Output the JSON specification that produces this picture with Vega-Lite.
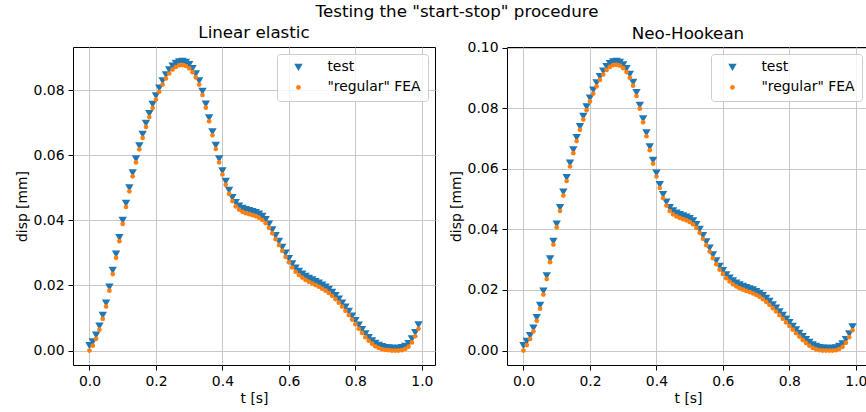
{
  "$schema": "https://vega.github.io/schema/vega-lite/v6.json",
  "padding": {"left": 14, "top": 4, "right": -3, "bottom": 0},
  "background": "white",
  "title": {"text": "Testing the \"start-stop\" procedure", "anchor": "start", "dx": 301, "fontSize": 16.7, "offset": 4},
  "datasets": {
    "linear": [
{"series":"test","t":0.00,"disp":0.0015},{"series":"test","t":0.01,"disp":0.0027},{"series":"test","t":0.02,"disp":0.0047},{"series":"test","t":0.03,"disp":0.0075},{"series":"test","t":0.04,"disp":0.0108},{"series":"test","t":0.05,"disp":0.0146},{"series":"test","t":0.06,"disp":0.0195},{"series":"test","t":0.07,"disp":0.0246},{"series":"test","t":0.08,"disp":0.0296},{"series":"test","t":0.09,"disp":0.0347},
{"series":"test","t":0.10,"disp":0.0400},{"series":"test","t":0.11,"disp":0.0452},{"series":"test","t":0.12,"disp":0.0500},{"series":"test","t":0.13,"disp":0.0546},{"series":"test","t":0.14,"disp":0.0589},{"series":"test","t":0.15,"disp":0.0629},{"series":"test","t":0.16,"disp":0.0664},{"series":"test","t":0.17,"disp":0.0698},{"series":"test","t":0.18,"disp":0.0728},{"series":"test","t":0.19,"disp":0.0756},
{"series":"test","t":0.20,"disp":0.0782},{"series":"test","t":0.21,"disp":0.0806},{"series":"test","t":0.22,"disp":0.0828},{"series":"test","t":0.23,"disp":0.0847},{"series":"test","t":0.24,"disp":0.0862},{"series":"test","t":0.25,"disp":0.0874},{"series":"test","t":0.26,"disp":0.0882},{"series":"test","t":0.27,"disp":0.0887},{"series":"test","t":0.28,"disp":0.0888},{"series":"test","t":0.29,"disp":0.0885},
{"series":"test","t":0.30,"disp":0.0878},{"series":"test","t":0.31,"disp":0.0866},{"series":"test","t":0.32,"disp":0.0850},{"series":"test","t":0.33,"disp":0.0828},{"series":"test","t":0.34,"disp":0.0796},{"series":"test","t":0.35,"disp":0.0757},{"series":"test","t":0.36,"disp":0.0715},{"series":"test","t":0.37,"disp":0.0672},{"series":"test","t":0.38,"disp":0.0630},{"series":"test","t":0.39,"disp":0.0589},
{"series":"test","t":0.40,"disp":0.0552},{"series":"test","t":0.41,"disp":0.0520},{"series":"test","t":0.42,"disp":0.0492},{"series":"test","t":0.43,"disp":0.0470},{"series":"test","t":0.44,"disp":0.0454},{"series":"test","t":0.45,"disp":0.0444},{"series":"test","t":0.46,"disp":0.0437},{"series":"test","t":0.47,"disp":0.0433},{"series":"test","t":0.48,"disp":0.0430},{"series":"test","t":0.49,"disp":0.0427},
{"series":"test","t":0.50,"disp":0.0424},{"series":"test","t":0.51,"disp":0.0419},{"series":"test","t":0.52,"disp":0.0412},{"series":"test","t":0.53,"disp":0.0402},{"series":"test","t":0.54,"disp":0.0388},{"series":"test","t":0.55,"disp":0.0371},{"series":"test","t":0.56,"disp":0.0353},{"series":"test","t":0.57,"disp":0.0335},{"series":"test","t":0.58,"disp":0.0317},{"series":"test","t":0.59,"disp":0.0299},
{"series":"test","t":0.60,"disp":0.0282},{"series":"test","t":0.61,"disp":0.0266},{"series":"test","t":0.62,"disp":0.0253},{"series":"test","t":0.63,"disp":0.0243},{"series":"test","t":0.64,"disp":0.0235},{"series":"test","t":0.65,"disp":0.0228},{"series":"test","t":0.66,"disp":0.0222},{"series":"test","t":0.67,"disp":0.0217},{"series":"test","t":0.68,"disp":0.0212},{"series":"test","t":0.69,"disp":0.0207},
{"series":"test","t":0.70,"disp":0.0201},{"series":"test","t":0.71,"disp":0.0195},{"series":"test","t":0.72,"disp":0.0188},{"series":"test","t":0.73,"disp":0.0179},{"series":"test","t":0.74,"disp":0.0169},{"series":"test","t":0.75,"disp":0.0158},{"series":"test","t":0.76,"disp":0.0146},{"series":"test","t":0.77,"disp":0.0133},{"series":"test","t":0.78,"disp":0.0120},{"series":"test","t":0.79,"disp":0.0106},
{"series":"test","t":0.80,"disp":0.0092},{"series":"test","t":0.81,"disp":0.0078},{"series":"test","t":0.82,"disp":0.0064},{"series":"test","t":0.83,"disp":0.0051},{"series":"test","t":0.84,"disp":0.0040},{"series":"test","t":0.85,"disp":0.0030},{"series":"test","t":0.86,"disp":0.0022},{"series":"test","t":0.87,"disp":0.0016},{"series":"test","t":0.88,"disp":0.0012},{"series":"test","t":0.89,"disp":0.0009},
{"series":"test","t":0.90,"disp":0.0008},{"series":"test","t":0.91,"disp":0.0007},{"series":"test","t":0.92,"disp":0.0007},{"series":"test","t":0.93,"disp":0.0007},{"series":"test","t":0.94,"disp":0.0009},{"series":"test","t":0.95,"disp":0.0013},{"series":"test","t":0.96,"disp":0.0021},{"series":"test","t":0.97,"disp":0.0036},{"series":"test","t":0.98,"disp":0.0055},{"series":"test","t":0.99,"disp":0.0079},
{"series":"\"regular\" FEA","t":0.00,"disp":0.0000},{"series":"\"regular\" FEA","t":0.01,"disp":0.0015},{"series":"\"regular\" FEA","t":0.02,"disp":0.0036},{"series":"\"regular\" FEA","t":0.03,"disp":0.0064},{"series":"\"regular\" FEA","t":0.04,"disp":0.0097},{"series":"\"regular\" FEA","t":0.05,"disp":0.0135},{"series":"\"regular\" FEA","t":0.06,"disp":0.0184},{"series":"\"regular\" FEA","t":0.07,"disp":0.0235},{"series":"\"regular\" FEA","t":0.08,"disp":0.0285},{"series":"\"regular\" FEA","t":0.09,"disp":0.0336},
{"series":"\"regular\" FEA","t":0.10,"disp":0.0389},{"series":"\"regular\" FEA","t":0.11,"disp":0.0441},{"series":"\"regular\" FEA","t":0.12,"disp":0.0489},{"series":"\"regular\" FEA","t":0.13,"disp":0.0535},{"series":"\"regular\" FEA","t":0.14,"disp":0.0578},{"series":"\"regular\" FEA","t":0.15,"disp":0.0618},{"series":"\"regular\" FEA","t":0.16,"disp":0.0653},{"series":"\"regular\" FEA","t":0.17,"disp":0.0687},{"series":"\"regular\" FEA","t":0.18,"disp":0.0717},{"series":"\"regular\" FEA","t":0.19,"disp":0.0745},
{"series":"\"regular\" FEA","t":0.20,"disp":0.0771},{"series":"\"regular\" FEA","t":0.21,"disp":0.0795},{"series":"\"regular\" FEA","t":0.22,"disp":0.0817},{"series":"\"regular\" FEA","t":0.23,"disp":0.0836},{"series":"\"regular\" FEA","t":0.24,"disp":0.0851},{"series":"\"regular\" FEA","t":0.25,"disp":0.0863},{"series":"\"regular\" FEA","t":0.26,"disp":0.0871},{"series":"\"regular\" FEA","t":0.27,"disp":0.0876},{"series":"\"regular\" FEA","t":0.28,"disp":0.0877},{"series":"\"regular\" FEA","t":0.29,"disp":0.0874},
{"series":"\"regular\" FEA","t":0.30,"disp":0.0867},{"series":"\"regular\" FEA","t":0.31,"disp":0.0855},{"series":"\"regular\" FEA","t":0.32,"disp":0.0839},{"series":"\"regular\" FEA","t":0.33,"disp":0.0817},{"series":"\"regular\" FEA","t":0.34,"disp":0.0785},{"series":"\"regular\" FEA","t":0.35,"disp":0.0746},{"series":"\"regular\" FEA","t":0.36,"disp":0.0704},{"series":"\"regular\" FEA","t":0.37,"disp":0.0661},{"series":"\"regular\" FEA","t":0.38,"disp":0.0619},{"series":"\"regular\" FEA","t":0.39,"disp":0.0578},
{"series":"\"regular\" FEA","t":0.40,"disp":0.0541},{"series":"\"regular\" FEA","t":0.41,"disp":0.0509},{"series":"\"regular\" FEA","t":0.42,"disp":0.0481},{"series":"\"regular\" FEA","t":0.43,"disp":0.0459},{"series":"\"regular\" FEA","t":0.44,"disp":0.0443},{"series":"\"regular\" FEA","t":0.45,"disp":0.0433},{"series":"\"regular\" FEA","t":0.46,"disp":0.0426},{"series":"\"regular\" FEA","t":0.47,"disp":0.0422},{"series":"\"regular\" FEA","t":0.48,"disp":0.0419},{"series":"\"regular\" FEA","t":0.49,"disp":0.0416},
{"series":"\"regular\" FEA","t":0.50,"disp":0.0413},{"series":"\"regular\" FEA","t":0.51,"disp":0.0408},{"series":"\"regular\" FEA","t":0.52,"disp":0.0401},{"series":"\"regular\" FEA","t":0.53,"disp":0.0391},{"series":"\"regular\" FEA","t":0.54,"disp":0.0377},{"series":"\"regular\" FEA","t":0.55,"disp":0.0360},{"series":"\"regular\" FEA","t":0.56,"disp":0.0342},{"series":"\"regular\" FEA","t":0.57,"disp":0.0324},{"series":"\"regular\" FEA","t":0.58,"disp":0.0306},{"series":"\"regular\" FEA","t":0.59,"disp":0.0288},
{"series":"\"regular\" FEA","t":0.60,"disp":0.0271},{"series":"\"regular\" FEA","t":0.61,"disp":0.0255},{"series":"\"regular\" FEA","t":0.62,"disp":0.0242},{"series":"\"regular\" FEA","t":0.63,"disp":0.0232},{"series":"\"regular\" FEA","t":0.64,"disp":0.0224},{"series":"\"regular\" FEA","t":0.65,"disp":0.0217},{"series":"\"regular\" FEA","t":0.66,"disp":0.0211},{"series":"\"regular\" FEA","t":0.67,"disp":0.0206},{"series":"\"regular\" FEA","t":0.68,"disp":0.0201},{"series":"\"regular\" FEA","t":0.69,"disp":0.0196},
{"series":"\"regular\" FEA","t":0.70,"disp":0.0190},{"series":"\"regular\" FEA","t":0.71,"disp":0.0184},{"series":"\"regular\" FEA","t":0.72,"disp":0.0177},{"series":"\"regular\" FEA","t":0.73,"disp":0.0168},{"series":"\"regular\" FEA","t":0.74,"disp":0.0158},{"series":"\"regular\" FEA","t":0.75,"disp":0.0147},{"series":"\"regular\" FEA","t":0.76,"disp":0.0135},{"series":"\"regular\" FEA","t":0.77,"disp":0.0122},{"series":"\"regular\" FEA","t":0.78,"disp":0.0109},{"series":"\"regular\" FEA","t":0.79,"disp":0.0095},
{"series":"\"regular\" FEA","t":0.80,"disp":0.0081},{"series":"\"regular\" FEA","t":0.81,"disp":0.0067},{"series":"\"regular\" FEA","t":0.82,"disp":0.0054},{"series":"\"regular\" FEA","t":0.83,"disp":0.0041},{"series":"\"regular\" FEA","t":0.84,"disp":0.0030},{"series":"\"regular\" FEA","t":0.85,"disp":0.0021},{"series":"\"regular\" FEA","t":0.86,"disp":0.0013},{"series":"\"regular\" FEA","t":0.87,"disp":0.0008},{"series":"\"regular\" FEA","t":0.88,"disp":0.0004},{"series":"\"regular\" FEA","t":0.89,"disp":0.0002},
{"series":"\"regular\" FEA","t":0.90,"disp":0.0001},{"series":"\"regular\" FEA","t":0.91,"disp":0.0000},{"series":"\"regular\" FEA","t":0.92,"disp":0.0000},{"series":"\"regular\" FEA","t":0.93,"disp":0.0000},{"series":"\"regular\" FEA","t":0.94,"disp":0.0001},{"series":"\"regular\" FEA","t":0.95,"disp":0.0005},{"series":"\"regular\" FEA","t":0.96,"disp":0.0012},{"series":"\"regular\" FEA","t":0.97,"disp":0.0025},{"series":"\"regular\" FEA","t":0.98,"disp":0.0044},{"series":"\"regular\" FEA","t":0.99,"disp":0.0067}
    ],
    "neo": [
{"series":"test","t":0.00,"disp":0.0016},{"series":"test","t":0.01,"disp":0.0030},{"series":"test","t":0.02,"disp":0.0049},{"series":"test","t":0.03,"disp":0.0074},{"series":"test","t":0.04,"disp":0.0109},{"series":"test","t":0.05,"disp":0.0149},{"series":"test","t":0.06,"disp":0.0196},{"series":"test","t":0.07,"disp":0.0247},{"series":"test","t":0.08,"disp":0.0303},{"series":"test","t":0.09,"disp":0.0361},
{"series":"test","t":0.10,"disp":0.0418},{"series":"test","t":0.11,"disp":0.0472},{"series":"test","t":0.12,"disp":0.0523},{"series":"test","t":0.13,"disp":0.0571},{"series":"test","t":0.14,"disp":0.0619},{"series":"test","t":0.15,"disp":0.0663},{"series":"test","t":0.16,"disp":0.0703},{"series":"test","t":0.17,"disp":0.0740},{"series":"test","t":0.18,"disp":0.0774},{"series":"test","t":0.19,"disp":0.0805},
{"series":"test","t":0.20,"disp":0.0834},{"series":"test","t":0.21,"disp":0.0860},{"series":"test","t":0.22,"disp":0.0884},{"series":"test","t":0.23,"disp":0.0905},{"series":"test","t":0.24,"disp":0.0923},{"series":"test","t":0.25,"disp":0.0938},{"series":"test","t":0.26,"disp":0.0948},{"series":"test","t":0.27,"disp":0.0954},{"series":"test","t":0.28,"disp":0.0955},{"series":"test","t":0.29,"disp":0.0952},
{"series":"test","t":0.30,"disp":0.0944},{"series":"test","t":0.31,"disp":0.0931},{"series":"test","t":0.32,"disp":0.0912},{"series":"test","t":0.33,"disp":0.0886},{"series":"test","t":0.34,"disp":0.0852},{"series":"test","t":0.35,"disp":0.0810},{"series":"test","t":0.36,"disp":0.0765},{"series":"test","t":0.37,"disp":0.0719},{"series":"test","t":0.38,"disp":0.0673},{"series":"test","t":0.39,"disp":0.0628},
{"series":"test","t":0.40,"disp":0.0586},{"series":"test","t":0.41,"disp":0.0548},{"series":"test","t":0.42,"disp":0.0515},{"series":"test","t":0.43,"disp":0.0490},{"series":"test","t":0.44,"disp":0.0472},{"series":"test","t":0.45,"disp":0.0461},{"series":"test","t":0.46,"disp":0.0454},{"series":"test","t":0.47,"disp":0.0449},{"series":"test","t":0.48,"disp":0.0445},{"series":"test","t":0.49,"disp":0.0441},
{"series":"test","t":0.50,"disp":0.0436},{"series":"test","t":0.51,"disp":0.0428},{"series":"test","t":0.52,"disp":0.0416},{"series":"test","t":0.53,"disp":0.0400},{"series":"test","t":0.54,"disp":0.0380},{"series":"test","t":0.55,"disp":0.0359},{"series":"test","t":0.56,"disp":0.0338},{"series":"test","t":0.57,"disp":0.0316},{"series":"test","t":0.58,"disp":0.0296},{"series":"test","t":0.59,"disp":0.0278},
{"series":"test","t":0.60,"disp":0.0264},{"series":"test","t":0.61,"disp":0.0250},{"series":"test","t":0.62,"disp":0.0239},{"series":"test","t":0.63,"disp":0.0230},{"series":"test","t":0.64,"disp":0.0223},{"series":"test","t":0.65,"disp":0.0217},{"series":"test","t":0.66,"disp":0.0212},{"series":"test","t":0.67,"disp":0.0208},{"series":"test","t":0.68,"disp":0.0204},{"series":"test","t":0.69,"disp":0.0200},
{"series":"test","t":0.70,"disp":0.0195},{"series":"test","t":0.71,"disp":0.0189},{"series":"test","t":0.72,"disp":0.0181},{"series":"test","t":0.73,"disp":0.0172},{"series":"test","t":0.74,"disp":0.0162},{"series":"test","t":0.75,"disp":0.0151},{"series":"test","t":0.76,"disp":0.0140},{"series":"test","t":0.77,"disp":0.0128},{"series":"test","t":0.78,"disp":0.0116},{"series":"test","t":0.79,"disp":0.0104},
{"series":"test","t":0.80,"disp":0.0092},{"series":"test","t":0.81,"disp":0.0080},{"series":"test","t":0.82,"disp":0.0068},{"series":"test","t":0.83,"disp":0.0057},{"series":"test","t":0.84,"disp":0.0046},{"series":"test","t":0.85,"disp":0.0036},{"series":"test","t":0.86,"disp":0.0027},{"series":"test","t":0.87,"disp":0.0019},{"series":"test","t":0.88,"disp":0.0014},{"series":"test","t":0.89,"disp":0.0010},
{"series":"test","t":0.90,"disp":0.0008},{"series":"test","t":0.91,"disp":0.0007},{"series":"test","t":0.92,"disp":0.0007},{"series":"test","t":0.93,"disp":0.0007},{"series":"test","t":0.94,"disp":0.0009},{"series":"test","t":0.95,"disp":0.0014},{"series":"test","t":0.96,"disp":0.0022},{"series":"test","t":0.97,"disp":0.0036},{"series":"test","t":0.98,"disp":0.0055},{"series":"test","t":0.99,"disp":0.0078},
{"series":"\"regular\" FEA","t":0.00,"disp":0.0000},{"series":"\"regular\" FEA","t":0.01,"disp":0.0018},{"series":"\"regular\" FEA","t":0.02,"disp":0.0038},{"series":"\"regular\" FEA","t":0.03,"disp":0.0063},{"series":"\"regular\" FEA","t":0.04,"disp":0.0098},{"series":"\"regular\" FEA","t":0.05,"disp":0.0138},{"series":"\"regular\" FEA","t":0.06,"disp":0.0185},{"series":"\"regular\" FEA","t":0.07,"disp":0.0236},{"series":"\"regular\" FEA","t":0.08,"disp":0.0292},{"series":"\"regular\" FEA","t":0.09,"disp":0.0350},
{"series":"\"regular\" FEA","t":0.10,"disp":0.0407},{"series":"\"regular\" FEA","t":0.11,"disp":0.0461},{"series":"\"regular\" FEA","t":0.12,"disp":0.0512},{"series":"\"regular\" FEA","t":0.13,"disp":0.0560},{"series":"\"regular\" FEA","t":0.14,"disp":0.0608},{"series":"\"regular\" FEA","t":0.15,"disp":0.0652},{"series":"\"regular\" FEA","t":0.16,"disp":0.0692},{"series":"\"regular\" FEA","t":0.17,"disp":0.0729},{"series":"\"regular\" FEA","t":0.18,"disp":0.0763},{"series":"\"regular\" FEA","t":0.19,"disp":0.0794},
{"series":"\"regular\" FEA","t":0.20,"disp":0.0823},{"series":"\"regular\" FEA","t":0.21,"disp":0.0849},{"series":"\"regular\" FEA","t":0.22,"disp":0.0873},{"series":"\"regular\" FEA","t":0.23,"disp":0.0894},{"series":"\"regular\" FEA","t":0.24,"disp":0.0912},{"series":"\"regular\" FEA","t":0.25,"disp":0.0927},{"series":"\"regular\" FEA","t":0.26,"disp":0.0937},{"series":"\"regular\" FEA","t":0.27,"disp":0.0943},{"series":"\"regular\" FEA","t":0.28,"disp":0.0944},{"series":"\"regular\" FEA","t":0.29,"disp":0.0941},
{"series":"\"regular\" FEA","t":0.30,"disp":0.0933},{"series":"\"regular\" FEA","t":0.31,"disp":0.0920},{"series":"\"regular\" FEA","t":0.32,"disp":0.0901},{"series":"\"regular\" FEA","t":0.33,"disp":0.0875},{"series":"\"regular\" FEA","t":0.34,"disp":0.0841},{"series":"\"regular\" FEA","t":0.35,"disp":0.0799},{"series":"\"regular\" FEA","t":0.36,"disp":0.0754},{"series":"\"regular\" FEA","t":0.37,"disp":0.0708},{"series":"\"regular\" FEA","t":0.38,"disp":0.0662},{"series":"\"regular\" FEA","t":0.39,"disp":0.0617},
{"series":"\"regular\" FEA","t":0.40,"disp":0.0575},{"series":"\"regular\" FEA","t":0.41,"disp":0.0537},{"series":"\"regular\" FEA","t":0.42,"disp":0.0504},{"series":"\"regular\" FEA","t":0.43,"disp":0.0479},{"series":"\"regular\" FEA","t":0.44,"disp":0.0461},{"series":"\"regular\" FEA","t":0.45,"disp":0.0450},{"series":"\"regular\" FEA","t":0.46,"disp":0.0443},{"series":"\"regular\" FEA","t":0.47,"disp":0.0438},{"series":"\"regular\" FEA","t":0.48,"disp":0.0434},{"series":"\"regular\" FEA","t":0.49,"disp":0.0430},
{"series":"\"regular\" FEA","t":0.50,"disp":0.0425},{"series":"\"regular\" FEA","t":0.51,"disp":0.0417},{"series":"\"regular\" FEA","t":0.52,"disp":0.0405},{"series":"\"regular\" FEA","t":0.53,"disp":0.0389},{"series":"\"regular\" FEA","t":0.54,"disp":0.0369},{"series":"\"regular\" FEA","t":0.55,"disp":0.0348},{"series":"\"regular\" FEA","t":0.56,"disp":0.0327},{"series":"\"regular\" FEA","t":0.57,"disp":0.0305},{"series":"\"regular\" FEA","t":0.58,"disp":0.0285},{"series":"\"regular\" FEA","t":0.59,"disp":0.0267},
{"series":"\"regular\" FEA","t":0.60,"disp":0.0253},{"series":"\"regular\" FEA","t":0.61,"disp":0.0239},{"series":"\"regular\" FEA","t":0.62,"disp":0.0228},{"series":"\"regular\" FEA","t":0.63,"disp":0.0219},{"series":"\"regular\" FEA","t":0.64,"disp":0.0212},{"series":"\"regular\" FEA","t":0.65,"disp":0.0206},{"series":"\"regular\" FEA","t":0.66,"disp":0.0201},{"series":"\"regular\" FEA","t":0.67,"disp":0.0197},{"series":"\"regular\" FEA","t":0.68,"disp":0.0193},{"series":"\"regular\" FEA","t":0.69,"disp":0.0189},
{"series":"\"regular\" FEA","t":0.70,"disp":0.0184},{"series":"\"regular\" FEA","t":0.71,"disp":0.0178},{"series":"\"regular\" FEA","t":0.72,"disp":0.0170},{"series":"\"regular\" FEA","t":0.73,"disp":0.0161},{"series":"\"regular\" FEA","t":0.74,"disp":0.0151},{"series":"\"regular\" FEA","t":0.75,"disp":0.0140},{"series":"\"regular\" FEA","t":0.76,"disp":0.0129},{"series":"\"regular\" FEA","t":0.77,"disp":0.0117},{"series":"\"regular\" FEA","t":0.78,"disp":0.0105},{"series":"\"regular\" FEA","t":0.79,"disp":0.0093},
{"series":"\"regular\" FEA","t":0.80,"disp":0.0081},{"series":"\"regular\" FEA","t":0.81,"disp":0.0069},{"series":"\"regular\" FEA","t":0.82,"disp":0.0057},{"series":"\"regular\" FEA","t":0.83,"disp":0.0046},{"series":"\"regular\" FEA","t":0.84,"disp":0.0035},{"series":"\"regular\" FEA","t":0.85,"disp":0.0025},{"series":"\"regular\" FEA","t":0.86,"disp":0.0016},{"series":"\"regular\" FEA","t":0.87,"disp":0.0009},{"series":"\"regular\" FEA","t":0.88,"disp":0.0004},{"series":"\"regular\" FEA","t":0.89,"disp":0.0001},
{"series":"\"regular\" FEA","t":0.90,"disp":0.0000},{"series":"\"regular\" FEA","t":0.91,"disp":0.0000},{"series":"\"regular\" FEA","t":0.92,"disp":0.0000},{"series":"\"regular\" FEA","t":0.93,"disp":0.0000},{"series":"\"regular\" FEA","t":0.94,"disp":0.0001},{"series":"\"regular\" FEA","t":0.95,"disp":0.0005},{"series":"\"regular\" FEA","t":0.96,"disp":0.0012},{"series":"\"regular\" FEA","t":0.97,"disp":0.0025},{"series":"\"regular\" FEA","t":0.98,"disp":0.0044},{"series":"\"regular\" FEA","t":0.99,"disp":0.0067}
    ]
  },
  "spacing": 12,
  "hconcat": [
    {
      "title": {"text": "Linear elastic"},
      "data": {"name": "linear"},
      "width": 362,
      "height": 318,
      "mark": {"type": "point", "filled": true, "opacity": 1, "strokeWidth": 0},
      "encoding": {
        "x": {"field": "t", "type": "quantitative", "scale": {"domain": [-0.0495, 1.0395], "nice": false, "zero": false}, "axis": {"values": [0, 0.2, 0.4, 0.6, 0.8, 1.0], "format": ".1f", "title": "t [s]"}},
        "y": {"field": "disp", "type": "quantitative", "scale": {"domain": [-0.00444, 0.09324], "nice": false, "zero": false}, "axis": {"values": [0, 0.02, 0.04, 0.06, 0.08], "format": ".2f", "title": "disp [mm]"}},
        "color": {"field": "series", "type": "nominal", "sort": null, "scale": {"domain": ["test", "\"regular\" FEA"], "range": ["#1f77b4", "#ff7f0e"]}, "legend": {"title": null}},
        "shape": {"field": "series", "type": "nominal", "sort": null, "scale": {"domain": ["test", "\"regular\" FEA"], "range": ["triangle-down", "circle"]}, "legend": {"title": null}},
        "size": {"field": "series", "type": "nominal", "sort": null, "scale": {"domain": ["test", "\"regular\" FEA"], "range": [70, 22]}, "legend": {"title": null}}
      }
    },
    {
      "title": {"text": "Neo-Hookean", "dy": 7},
      "data": {"name": "neo"},
      "width": 362,
      "height": 318,
      "mark": {"type": "point", "filled": true, "opacity": 1, "strokeWidth": 0},
      "encoding": {
        "x": {"field": "t", "type": "quantitative", "scale": {"domain": [-0.0495, 1.0395], "nice": false, "zero": false}, "axis": {"values": [0, 0.2, 0.4, 0.6, 0.8, 1.0], "format": ".1f", "title": "t [s]"}},
        "y": {"field": "disp", "type": "quantitative", "scale": {"domain": [-0.00478, 0.10028], "nice": false, "zero": false}, "axis": {"values": [0, 0.02, 0.04, 0.06, 0.08, 0.10], "format": ".2f", "title": "disp [mm]"}},
        "color": {"field": "series", "type": "nominal", "sort": null, "scale": {"domain": ["test", "\"regular\" FEA"], "range": ["#1f77b4", "#ff7f0e"]}, "legend": {"title": null}},
        "shape": {"field": "series", "type": "nominal", "sort": null, "scale": {"domain": ["test", "\"regular\" FEA"], "range": ["triangle-down", "circle"]}, "legend": {"title": null}},
        "size": {"field": "series", "type": "nominal", "sort": null, "scale": {"domain": ["test", "\"regular\" FEA"], "range": [70, 22]}, "legend": {"title": null}}
      }
    }
  ],
  "resolve": {
    "scale": {"x": "independent", "y": "independent", "color": "independent", "shape": "independent", "size": "independent"},
    "legend": {"color": "independent", "shape": "independent", "size": "independent"}
  },
  "config": {
    "font": "DejaVu Sans",
    "view": {"stroke": "#000000", "strokeWidth": 1},
    "title": {"font": "DejaVu Sans", "fontSize": 16.7, "fontWeight": "normal", "color": "#000000", "offset": 5},
    "axis": {
      "domain": false,
      "grid": true,
      "gridColor": "#c8c8c8",
      "gridWidth": 1,
      "tickColor": "#000000",
      "tickSize": 5,
      "tickWidth": 1,
      "labelFont": "DejaVu Sans",
      "labelFontSize": 13.9,
      "labelColor": "#000000",
      "labelPadding": 4,
      "titleFont": "DejaVu Sans",
      "titleFontSize": 13.9,
      "titleFontWeight": "normal",
      "titleColor": "#000000",
      "titlePadding": 4
    },
    "legend": {
      "orient": "top-right",
      "offset": 7,
      "padding": 6.5,
      "symbolOffset": 8,
      "labelOffset": 22,
      "rowPadding": 5,
      "labelFont": "DejaVu Sans",
      "labelFontSize": 13.9,
      "labelColor": "#000000",
      "strokeColor": "#cccccc",
      "fillColor": "rgba(255,255,255,0.8)",
      "cornerRadius": 3,
      "symbolStrokeWidth": 0
    }
  }
}
